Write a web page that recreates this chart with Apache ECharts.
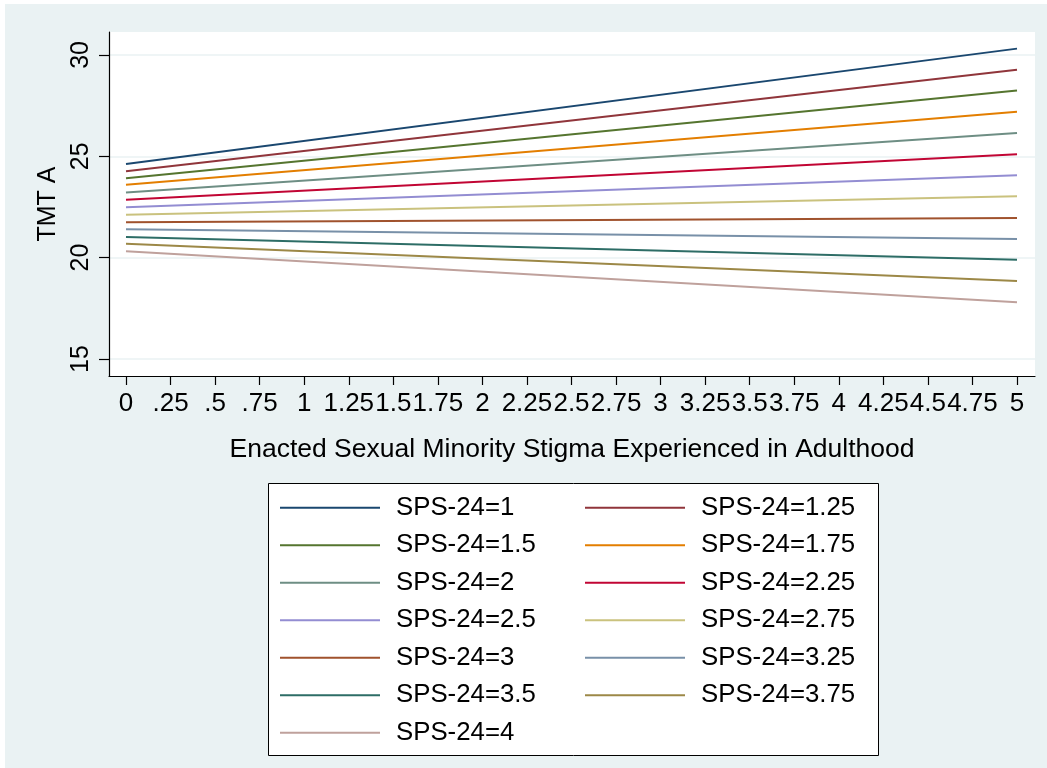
<!DOCTYPE html>
<html>
<head>
<meta charset="utf-8">
<title>TMT A by enacted stigma and SPS-24</title>
<script src="https://cdn.jsdelivr.net/npm/echarts@6/dist/echarts.min.js"></script>
<style>
  html, body { margin: 0; padding: 0; background: #ffffff; }
  #chart { position: absolute; left: 5px; top: 4px; width: 1042px; height: 764px; }
</style>
</head>
<body>
<div id="chart"></div>
<script>
// Predicted TMT A at the two ends of the stigma range, one line per SPS-24 level
const seriesNames = [
  'SPS-24=1', 'SPS-24=1.25', 'SPS-24=1.5', 'SPS-24=1.75', 'SPS-24=2',
  'SPS-24=2.25', 'SPS-24=2.5', 'SPS-24=2.75', 'SPS-24=3', 'SPS-24=3.25',
  'SPS-24=3.5', 'SPS-24=3.75', 'SPS-24=4'
];
const stigmaEnds = [0, 5];
const tmtAtStart = [24.62, 24.26, 23.92, 23.59, 23.21, 22.86, 22.49, 22.12, 21.75, 21.40, 21.02, 20.68, 20.32];
const tmtAtEnd   = [30.31, 29.27, 28.24, 27.20, 26.15, 25.10, 24.06, 23.03, 21.96, 20.92, 19.89, 18.85, 17.80];

const xTickValues = [0, 0.25, 0.5, 0.75, 1, 1.25, 1.5, 1.75, 2, 2.25, 2.5, 2.75, 3, 3.25, 3.5, 3.75, 4, 4.25, 4.5, 4.75, 5];
const xTickLabels = ['0', '.25', '.5', '.75', '1', '1.25', '1.5', '1.75', '2', '2.25', '2.5', '2.75', '3', '3.25', '3.5', '3.75', '4', '4.25', '4.5', '4.75', '5'];
const yTickValues = [15, 20, 25, 30];
const yTickLabels = ['15', '20', '25', '30'];

// Stata s2color palette
const lineColors = [
  '#1a476f', '#90353b', '#55752f', '#e37e00', '#6e8e84', '#c10534', '#938dd2',
  '#cac27e', '#a0522d', '#7890a8', '#2d6d66', '#9c8847', '#bfa19c'
];

const FONT = "'Liberation Sans', Arial, Helvetica, sans-serif";
const BG = '#eaf2f3';

const series = seriesNames.map((name, i) => ({
  name: name,
  type: 'line',
  symbol: 'none',
  silent: true,
  color: lineColors[i],
  lineStyle: { width: 2, color: lineColors[i] },
  data: [[stigmaEnds[0], tmtAtStart[i]], [stigmaEnds[1], tmtAtEnd[i]]]
}));

const legendBase = {
  orient: 'vertical',
  top: 488.7,
  padding: 0,
  itemGap: 7.5,
  itemWidth: 100,
  itemHeight: 2,
  icon: 'rect',
  selectedMode: false,
  z: 10,
  textStyle: { fontFamily: FONT, fontSize: 25.8, color: '#000', lineHeight: 30, padding: [0, 0, 0, 11] }
};

const chart = echarts.init(document.getElementById('chart'), null, { renderer: 'canvas' });
chart.setOption({
  animation: false,
  backgroundColor: BG,
  textStyle: { fontFamily: FONT },
  grid: {
    left: 104, top: 28, right: 12, bottom: 392,
    show: true, backgroundColor: '#ffffff', borderWidth: 0
  },
  xAxis: {
    type: 'value',
    min: -0.0954,
    max: 5.101,
    name: 'Enacted Sexual Minority Stigma Experienced in Adulthood',
    nameLocation: 'middle',
    nameGap: 60,
    nameTextStyle: { fontFamily: FONT, fontSize: 26.5, color: '#000' },
    axisLine: { show: true, onZero: false, lineStyle: { color: '#000', width: 1.2 } },
    axisTick: { show: true, length: 9, customValues: xTickValues, lineStyle: { color: '#000', width: 1.2 } },
    axisLabel: {
      customValues: xTickValues,
      margin: 15,
      fontFamily: FONT, fontSize: 26, color: '#000',
      formatter: v => xTickLabels[xTickValues.indexOf(Math.round(v * 100) / 100)]
    },
    splitLine: { show: false }
  },
  yAxis: {
    type: 'value',
    min: 14.16,
    max: 31.13,
    name: 'TMT A',
    nameLocation: 'middle',
    nameRotate: 90,
    nameGap: 48,
    nameTextStyle: { fontFamily: FONT, fontSize: 25, color: '#000' },
    axisLine: { show: true, onZero: false, lineStyle: { color: '#000', width: 1.2 } },
    axisTick: { show: true, length: 10, customValues: yTickValues, lineStyle: { color: '#000', width: 1.2 } },
    axisLabel: {
      customValues: yTickValues,
      rotate: 90,
      margin: 15,
      fontFamily: FONT, fontSize: 25, color: '#000',
      formatter: v => yTickLabels[yTickValues.indexOf(v)]
    },
    splitLine: { show: true, lineStyle: { color: BG, width: 1.5 } }
  },
  legend: [
    Object.assign({}, legendBase, { left: 275, data: seriesNames.filter((_, i) => i % 2 === 0) }),
    Object.assign({}, legendBase, { left: 580, data: seriesNames.filter((_, i) => i % 2 === 1) })
  ],
  graphic: [{
    type: 'rect',
    left: 263, top: 479, z: 1,
    shape: { width: 610, height: 272 },
    style: { fill: '#ffffff', stroke: '#000000', lineWidth: 1 }
  }],
  series: series
});
</script>
</body>
</html>
